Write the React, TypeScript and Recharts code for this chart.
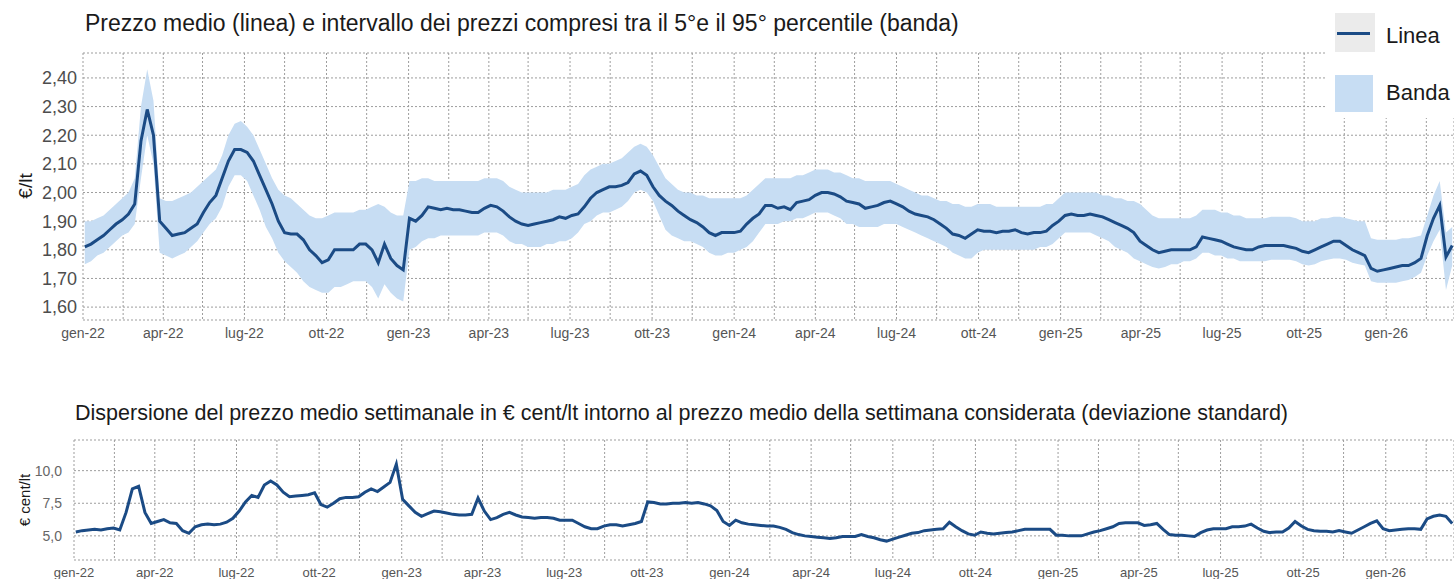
import { ComposedChart, LineChart, Area, Line, XAxis, YAxis, CartesianGrid } from "recharts";

const FONT = "'Liberation Sans', Arial, sans-serif";
const DAY = 86400000;
const firstWeek = Date.UTC(2022, 0, 3);
const xStart = Date.UTC(2022, 0, 1);
const xEnd = Date.UTC(2026, 2, 18);

const quarterLabels = [
  "gen-22", "apr-22", "lug-22", "ott-22",
  "gen-23", "apr-23", "lug-23", "ott-23",
  "gen-24", "apr-24", "lug-24", "ott-24",
  "gen-25", "apr-25", "lug-25", "ott-25",
  "gen-26",
];

const priceTicks = [1.6, 1.7, 1.8, 1.9, 2.0, 2.1, 2.2, 2.3, 2.4];
const stdTicks = [5, 7.5, 10];

// prezzo medio settimanale, €/lt
const priceMean = [
  1.81, 1.82, 1.835, 1.85, 1.87, 1.89, 1.905, 1.925, 1.96, 2.18,
  2.29, 2.2, 1.9, 1.875, 1.85, 1.855, 1.86, 1.875, 1.89, 1.93,
  1.965, 1.99, 2.05, 2.11, 2.15, 2.15, 2.14, 2.11, 2.06, 2.01,
  1.96, 1.9, 1.86, 1.855, 1.855, 1.835, 1.8, 1.78, 1.755, 1.765,
  1.8, 1.8, 1.8, 1.8, 1.82, 1.82, 1.8, 1.755, 1.82, 1.77,
  1.745, 1.73, 1.91, 1.9, 1.92, 1.95, 1.945, 1.94, 1.945, 1.94,
  1.94, 1.935, 1.93, 1.93, 1.945, 1.955, 1.95, 1.935, 1.915, 1.9,
  1.89, 1.885, 1.89, 1.895, 1.9, 1.905, 1.915, 1.91, 1.92, 1.925,
  1.95, 1.98, 2.0, 2.01, 2.02, 2.02, 2.025, 2.035, 2.065, 2.075,
  2.06, 2.02, 1.99, 1.97, 1.955, 1.935, 1.92, 1.905, 1.895, 1.88,
  1.86, 1.85, 1.86, 1.86, 1.86, 1.865, 1.89, 1.91, 1.925, 1.955,
  1.955, 1.945, 1.95, 1.94, 1.965, 1.97, 1.975, 1.99, 2.0, 2.0,
  1.995, 1.985, 1.97, 1.965, 1.96, 1.945, 1.95, 1.955, 1.965, 1.97,
  1.96, 1.95, 1.935, 1.925, 1.92, 1.915, 1.905, 1.89, 1.875, 1.855,
  1.85, 1.84, 1.855, 1.87, 1.865, 1.865, 1.86, 1.865, 1.865, 1.87,
  1.86, 1.855, 1.86, 1.86, 1.865, 1.885, 1.9, 1.92, 1.925, 1.92,
  1.92, 1.925, 1.92, 1.915, 1.905, 1.895, 1.885, 1.875, 1.86, 1.83,
  1.815, 1.8, 1.79, 1.795, 1.8, 1.8, 1.8, 1.8, 1.81, 1.845,
  1.84, 1.835, 1.83, 1.82, 1.81, 1.805, 1.8, 1.8, 1.81, 1.815,
  1.815, 1.815, 1.815, 1.81, 1.805, 1.795, 1.79, 1.8, 1.81, 1.82,
  1.83, 1.83, 1.815, 1.8, 1.79, 1.78, 1.735, 1.725, 1.73, 1.735,
  1.74, 1.745, 1.745, 1.755, 1.77, 1.85, 1.91, 1.955, 1.775, 1.815,
];

// 95° percentile
const priceP95 = [
  1.9, 1.9, 1.91, 1.92, 1.94, 1.96, 1.98, 2.0, 2.05, 2.3,
  2.43, 2.32, 1.98, 1.97, 1.97, 1.98, 1.99, 2.0, 2.02, 2.04,
  2.06, 2.08, 2.13, 2.2, 2.24, 2.25, 2.23, 2.2, 2.15, 2.1,
  2.05, 2.01, 1.99, 1.98, 1.96, 1.94, 1.92, 1.91, 1.91, 1.92,
  1.93, 1.93, 1.93, 1.93, 1.94, 1.94, 1.95, 1.96, 1.95, 1.93,
  1.92, 1.92, 2.04, 2.04, 2.05, 2.05, 2.04, 2.04, 2.04, 2.04,
  2.04, 2.04, 2.04, 2.04, 2.05, 2.05, 2.05, 2.04, 2.02, 2.01,
  2.0, 2.0, 2.0, 2.0, 2.0, 2.01, 2.01, 2.01, 2.02, 2.03,
  2.06, 2.08, 2.09, 2.1, 2.1, 2.11, 2.12, 2.14, 2.16, 2.17,
  2.16, 2.13, 2.09, 2.05, 2.03, 2.01, 2.0, 2.0, 1.99, 1.99,
  1.98, 1.98, 1.98, 1.98, 1.98, 1.98, 1.99, 2.01, 2.03, 2.05,
  2.05, 2.05, 2.05, 2.05, 2.06, 2.06, 2.07, 2.08, 2.08, 2.08,
  2.07, 2.07, 2.06, 2.05, 2.05, 2.04, 2.04, 2.04, 2.04, 2.04,
  2.03, 2.02, 2.01, 2.0, 1.99, 1.99, 1.98, 1.97, 1.97, 1.96,
  1.96, 1.95, 1.95, 1.96, 1.96, 1.96, 1.95, 1.95, 1.95, 1.95,
  1.95, 1.95, 1.95, 1.95, 1.96, 1.96, 1.98, 2.0, 2.0, 2.0,
  2.0, 2.0, 2.0, 1.99, 1.99, 1.98, 1.98, 1.97, 1.97, 1.96,
  1.94, 1.92, 1.91, 1.91, 1.91, 1.91, 1.91, 1.91, 1.92, 1.94,
  1.94, 1.94, 1.93, 1.93, 1.92, 1.92, 1.91, 1.91, 1.91, 1.91,
  1.915, 1.915, 1.915, 1.915, 1.91, 1.9, 1.9, 1.9, 1.91, 1.91,
  1.915, 1.915, 1.91, 1.905, 1.9, 1.9, 1.84, 1.835, 1.835, 1.835,
  1.835, 1.84, 1.84, 1.845, 1.85, 1.92, 1.99, 2.04, 1.86, 1.88,
];

// 5° percentile
const priceP5 = [
  1.75, 1.76, 1.78, 1.79, 1.81, 1.83, 1.85, 1.86, 1.89, 2.05,
  2.2, 2.1, 1.79, 1.78, 1.77, 1.78, 1.79, 1.81, 1.83, 1.86,
  1.89, 1.91, 1.95, 2.02, 2.06, 2.06, 2.04, 1.99, 1.94, 1.88,
  1.84, 1.79, 1.76, 1.74, 1.72, 1.69, 1.67, 1.66, 1.65, 1.65,
  1.67, 1.67, 1.68, 1.69, 1.69, 1.69, 1.67, 1.63, 1.68, 1.65,
  1.63, 1.62, 1.8, 1.81, 1.83, 1.84, 1.84, 1.85, 1.85, 1.85,
  1.85, 1.85, 1.85, 1.85, 1.86, 1.86, 1.86, 1.85, 1.83, 1.82,
  1.82, 1.81, 1.81, 1.81, 1.82, 1.82, 1.83, 1.83, 1.84, 1.86,
  1.89, 1.9, 1.92, 1.93, 1.93, 1.94, 1.95, 1.97, 2.0, 2.01,
  2.0, 1.97, 1.92, 1.87, 1.85, 1.84, 1.83, 1.83, 1.82, 1.81,
  1.79, 1.78, 1.78, 1.79, 1.79, 1.8, 1.81, 1.83, 1.86, 1.89,
  1.89, 1.89, 1.9, 1.9, 1.91, 1.91, 1.92, 1.93, 1.93, 1.93,
  1.92, 1.91, 1.89, 1.89, 1.88, 1.88, 1.88, 1.88, 1.89, 1.89,
  1.89, 1.88, 1.87, 1.86, 1.85, 1.84, 1.83, 1.82, 1.81, 1.79,
  1.78, 1.77, 1.77, 1.79, 1.8, 1.8, 1.8, 1.8, 1.8, 1.8,
  1.8, 1.8, 1.8, 1.81, 1.81, 1.82, 1.84, 1.86, 1.86, 1.86,
  1.86, 1.86, 1.85, 1.84, 1.83, 1.81, 1.8, 1.79, 1.77, 1.76,
  1.75, 1.74, 1.735, 1.74, 1.75, 1.75, 1.76, 1.76, 1.77, 1.79,
  1.79, 1.78, 1.78, 1.77, 1.77, 1.76, 1.76, 1.76, 1.76, 1.76,
  1.765, 1.765, 1.765, 1.765, 1.76, 1.75, 1.745, 1.75, 1.76, 1.765,
  1.77, 1.77, 1.765, 1.755, 1.75, 1.745, 1.69, 1.685, 1.685, 1.685,
  1.685, 1.69, 1.695, 1.705, 1.72, 1.78, 1.83, 1.87, 1.66, 1.745,
];

// deviazione standard, € cent/lt
const stdCent = [
  5.3, 5.4, 5.45, 5.5, 5.45, 5.55, 5.6, 5.45, 6.8, 8.6,
  8.8, 6.8, 5.95, 6.1, 6.25, 6.0, 5.95, 5.4, 5.2, 5.7,
  5.85, 5.9, 5.85, 5.9, 6.05, 6.35, 6.9, 7.6, 8.1, 7.95,
  8.9, 9.2, 8.9, 8.35, 8.0, 8.05, 8.1, 8.15, 8.3, 7.4,
  7.2, 7.5, 7.85, 7.95, 7.95, 8.0, 8.35, 8.6, 8.4, 8.75,
  9.1, 10.5, 7.8, 7.3, 6.8, 6.5, 6.7, 6.9, 6.85, 6.75,
  6.65, 6.6, 6.6, 6.65, 7.9, 6.9, 6.25, 6.4, 6.65, 6.8,
  6.6, 6.45, 6.4, 6.35, 6.4, 6.4, 6.35, 6.2, 6.2, 6.2,
  5.95, 5.7, 5.55, 5.55, 5.75, 5.85, 5.85, 5.75, 5.85, 5.95,
  6.1, 7.6, 7.55, 7.45, 7.45, 7.5, 7.5, 7.55, 7.5, 7.55,
  7.45, 7.3, 6.95, 6.1, 5.8, 6.2, 6.0, 5.9, 5.85, 5.8,
  5.75, 5.75, 5.65, 5.5, 5.25, 5.1, 5.0, 4.95, 4.9, 4.85,
  4.8, 4.85, 4.95, 4.95, 4.95, 5.1, 4.95, 4.85, 4.7, 4.6,
  4.75, 4.9, 5.05, 5.2, 5.25, 5.4, 5.45, 5.5, 5.55, 6.05,
  5.7, 5.4, 5.15, 5.05, 5.3, 5.2, 5.15, 5.2, 5.25, 5.3,
  5.4, 5.5, 5.5, 5.5, 5.5, 5.5, 5.05, 5.05, 5.0, 5.0,
  5.0, 5.15, 5.3, 5.4, 5.55, 5.7, 5.95, 6.0, 6.0, 6.0,
  5.8, 5.85, 5.95, 5.5, 5.1, 5.05, 5.05, 5.0, 4.95, 5.25,
  5.45, 5.55, 5.55, 5.55, 5.7, 5.7, 5.75, 5.9, 5.6, 5.35,
  5.25, 5.3, 5.3, 5.6, 6.1, 5.75, 5.5, 5.4, 5.35, 5.35,
  5.3, 5.4, 5.3, 5.2, 5.45, 5.7, 5.95, 6.15, 5.55, 5.4,
  5.45, 5.5, 5.55, 5.55, 5.5, 6.3, 6.5, 6.6, 6.5, 5.95,
];

const monthOf: Record<string, number> = { gen: 0, apr: 3, lug: 6, ott: 9 };
const labelByTick = new Map<number, string>();
const gridTicks: number[] = [];
quarterLabels.forEach((l) => {
  const [m, yy] = l.split("-");
  const year = 2000 + Number(yy);
  const t = Date.UTC(year, monthOf[m], 1);
  labelByTick.set(t, l);
  gridTicks.push(t, Date.UTC(year, monthOf[m] + 1, 15));
});

const rows = priceMean.map((m, i) => ({
  t: firstWeek + i * 7 * DAY,
  mean: m,
  band: [priceP5[i], priceP95[i]],
  std: stdCent[i],
}));

const LINE = "#1b4b85";
const BAND = "#c7ddf3";
const GRID = "#9d9d9d";

const fmtX = (t: number) => labelByTick.get(t) ?? "";

export default function App() {
  return (
    <div
      style={{
        position: "absolute",
        left: 0,
        top: 0,
        width: 1454,
        height: 579,
        background: "#fff",
        fontFamily: FONT,
        color: "#1a1a1a",
        overflow: "hidden",
      }}
    >
      <div style={{ position: "absolute", left: 0, top: 0 }}>
        <ComposedChart width={1454} height={350} data={rows} margin={{ top: 53, right: 0, bottom: 5, left: 0 }}>
          <CartesianGrid stroke={GRID} strokeDasharray="2 2" />
          <XAxis
            dataKey="t"
            type="number"
            domain={[xStart, xEnd]}
            ticks={gridTicks}
            interval={0}
            tickFormatter={fmtX}
            axisLine={false}
            tickLine={false}
            height={25}
            tick={{ fontSize: 14, fill: "#555", fontFamily: FONT }}
          />
          <YAxis
            type="number"
            domain={[1.555, 2.487]}
            allowDataOverflow
            ticks={priceTicks}
            interval={0}
            tickFormatter={(v: number) => v.toFixed(2).replace(".", ",")}
            axisLine={false}
            tickLine={false}
            tickSize={0}
            tickMargin={6}
            width={83}
            tick={{ fontSize: 18, fill: "#4d4d4d", fontFamily: FONT }}
          />
          <Area dataKey="band" stroke="none" fill={BAND} fillOpacity={1} isAnimationActive={false} />
          <Line dataKey="mean" stroke={LINE} strokeWidth={3} dot={false} isAnimationActive={false} />
        </ComposedChart>
      </div>

      <div style={{ position: "absolute", left: 85, top: 10, fontSize: 23, lineHeight: "26px", whiteSpace: "nowrap" }}>
        Prezzo medio (linea) e intervallo dei prezzi compresi tra il 5°e il 95° percentile (banda)
      </div>
      <div
        style={{
          position: "absolute",
          left: 26,
          top: 186,
          transform: "translate(-50%, -50%) rotate(-90deg)",
          fontSize: 19,
          whiteSpace: "nowrap",
        }}
      >
        €/lt
      </div>

      <div style={{ position: "absolute", left: 1325, top: 0, width: 129, height: 118, background: "#fff" }}>
        <div style={{ position: "absolute", left: 10, top: 13, width: 40, height: 39, background: "#ebebeb" }}>
          <div style={{ position: "absolute", left: 2, top: 19, width: 33, height: 3, background: LINE }} />
        </div>
        <div style={{ position: "absolute", left: 61, top: 23, fontSize: 22, lineHeight: "25px" }}>Linea</div>
        <div style={{ position: "absolute", left: 10, top: 75, width: 38, height: 37, background: BAND }} />
        <div style={{ position: "absolute", left: 61, top: 80, fontSize: 22, lineHeight: "25px" }}>Banda</div>
      </div>

      <div style={{ position: "absolute", left: 75, top: 401, fontSize: 21.5, lineHeight: "24px", whiteSpace: "nowrap" }}>
        Dispersione del prezzo medio settimanale in € cent/lt intorno al prezzo medio della settimana considerata
        (deviazione standard)
      </div>
      <div
        style={{
          position: "absolute",
          left: 24,
          top: 500,
          transform: "translate(-50%, -50%) rotate(-90deg)",
          fontSize: 15,
          whiteSpace: "nowrap",
        }}
      >
        € cent/lt
      </div>

      <div style={{ position: "absolute", left: 0, top: 430 }}>
        <LineChart width={1454} height={149} data={rows} margin={{ top: 10, right: 0, bottom: 0, left: 0 }}>
          <CartesianGrid stroke={GRID} strokeDasharray="2 2" />
          <XAxis
            dataKey="t"
            type="number"
            domain={[xStart, xEnd]}
            ticks={gridTicks}
            interval={0}
            tickFormatter={fmtX}
            axisLine={false}
            tickLine={false}
            height={19}
            tick={{ fontSize: 13, fill: "#555", fontFamily: FONT }}
          />
          <YAxis
            type="number"
            domain={[3.15, 12.35]}
            allowDataOverflow
            ticks={stdTicks}
            interval={0}
            tickFormatter={(v: number) => v.toFixed(1).replace(".", ",")}
            axisLine={false}
            tickLine={false}
            tickSize={0}
            tickMargin={12}
            width={74}
            tick={{ fontSize: 14, fill: "#666", fontFamily: FONT }}
          />
          <Line dataKey="std" stroke={LINE} strokeWidth={3} dot={false} isAnimationActive={false} />
        </LineChart>
      </div>
    </div>
  );
}
